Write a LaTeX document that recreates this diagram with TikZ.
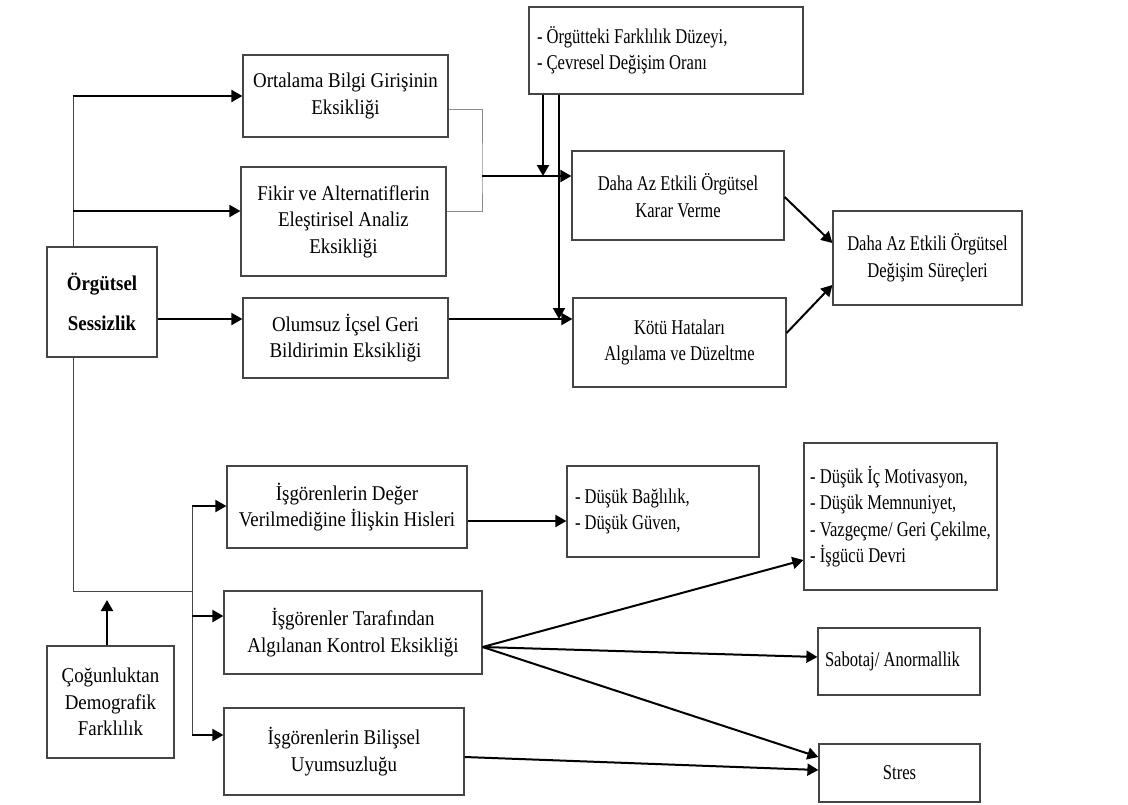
\documentclass[tikz,border=0pt]{standalone}
\usepackage{fontspec}
\setmainfont{Liberation Serif}
\newfontfamily\genisyazi[FakeStretch=0.9]{Liberation Serif}
\newfontfamily\darayazi[FakeStretch=0.79]{Liberation Serif}
\usetikzlibrary{arrows.meta}
\definecolor{cerceve}{HTML}{454545}
\definecolor{gricizgi}{HTML}{8A8A8A}

\begin{document}
\begin{tikzpicture}[x=1pt, y=-1pt,
    kutu/.style={draw=cerceve, line width=1.2pt, inner sep=0pt, align=center},
    buyuk/.style={font=\genisyazi\fontsize{21}{26.5}\selectfont},
    kucuk/.style={font=\darayazi\fontsize{21}{26.5}\selectfont},
    okcizgi/.style={-{Triangle[length=11pt,width=12pt]}, line width=2pt},
    ince/.style={draw=cerceve, line width=1pt}]
    \useasboundingbox (0,0) rectangle (1128,804);
    % sol sutun
    \node[kutu, buyuk, minimum width=110pt, minimum height=110pt] (sessizlik) at (102,302)
      {\bfseries Örgütsel\\[13.5pt]\bfseries Sessizlik};
    \node[kutu, buyuk, minimum width=205pt, minimum height=82pt] (ortalama) at (345.5,96)
      {Ortalama Bilgi Girişinin\\Eksikliği};
    \node[kutu, buyuk, minimum width=205pt, minimum height=109pt] (fikir) at (343.5,221.5)
      {Fikir ve Alternatiflerin\\Eleştirisel Analiz\\Eksikliği};
    \node[kutu, buyuk, minimum width=205pt, minimum height=80pt] (olumsuz) at (345.5,338)
      {Olumsuz İçsel Geri\\Bildirimin Eksikliği};
    % ust sag
    \node[kutu, kucuk, align=flush left, text width=258pt, inner xsep=8pt, minimum height=87pt] (etkenler) at (666,50.5)
      {- Örgütteki Farklılık Düzeyi,\\- Çevresel Değişim Oranı};
    \node[kutu, kucuk, minimum width=212pt, minimum height=89pt] (karar) at (678,195.5)
      {Daha Az Etkili Örgütsel\\Karar Verme};
    \node[kutu, kucuk, minimum width=213pt, minimum height=89pt] (hatalar) at (679.5,342.5)
      {Kötü Hataları\\Algılama ve Düzeltme};
    \node[kutu, kucuk, minimum width=189pt, minimum height=94pt] (degisim) at (927.5,258)
      {Daha Az Etkili Örgütsel\\Değişim Süreçleri};
    % alt kisim
    \node[kutu, buyuk, minimum width=240pt, minimum height=82pt] (deger) at (347,507)
      {İşgörenlerin Değer\\Verilmediğine İlişkin Hisleri};
    \node[kutu, buyuk, minimum width=258pt, minimum height=83pt] (kontrol) at (353,632.5)
      {İşgörenler Tarafından\\Algılanan Kontrol Eksikliği};
    \node[kutu, buyuk, minimum width=240pt, minimum height=87pt] (bilissel) at (344,751.5)
      {İşgörenlerin Bilişsel\\Uyumsuzluğu};
    \node[kutu, buyuk, minimum width=127pt, minimum height=112pt] (demografik) at (110.5,702)
      {Çoğunluktan\\Demografik\\Farklılık};
    \node[kutu, kucuk, align=flush left, text width=176pt, inner xsep=8pt, minimum height=91pt] (baglilik) at (663,511.5)
      {- Düşük Bağlılık,\\- Düşük Güven,};
    \node[kutu, kucuk, align=left, minimum width=193pt, minimum height=147pt] (motivasyon) at (900.5,516.5)
      {- Düşük İç Motivasyon,\\- Düşük Memnuniyet,\\- Vazgeçme/ Geri Çekilme,\\- İşgücü Devri};
    \node[kutu, kucuk, align=flush left, text width=148pt, inner xsep=7pt, minimum height=67pt] (sabotaj) at (899,661.5)
      {Sabotaj/ Anormallik};
    \node[kutu, kucuk, minimum width=161pt, minimum height=58pt] (stres) at (899.5,773) {Stres};
    % ust govde
    \coordinate (govde) at (73,96);
    \coordinate (fikirok) at (73,211);
    \coordinate (olumsuzok) at (0,319);
    \draw[ince] (sessizlik.north -| govde) -- (govde);
    \draw[okcizgi] (govde) -- (ortalama.west);
    \draw[okcizgi] (fikirok) -- (fikir.west |- fikirok);
    \draw[okcizgi] (sessizlik.east |- olumsuzok) -- (olumsuz.west |- olumsuzok);
    \draw[okcizgi] (olumsuz.east |- olumsuzok) -- (hatalar.west |- olumsuzok);
    % gri birlesme
    \coordinate (birlesme) at (482,176);
    \draw[gricizgi, line width=1pt] (ortalama.east |- 0,109) -| (birlesme) |- (fikir.east |- fikirok);
    \draw[okcizgi] (birlesme) -- (karar.west |- birlesme);
    % etkenlerden inen oklar
    \coordinate (etken1) at (543,0);
    \coordinate (etken2) at (559,0);
    \draw[okcizgi] (etkenler.south -| etken1) -- (birlesme -| etken1);
    \draw[okcizgi] (etkenler.south -| etken2) -- (olumsuzok -| etken2);
    % degisim surecleri
    \draw[okcizgi] (karar.east |- 0,197) -- (degisim.west |- 0,243);
    \draw[okcizgi] (hatalar.east |- 0,333) -- (degisim.west |- 0,285);
    % alt govde
    \coordinate (alt) at (73,591);
    \coordinate (dal) at (192,591);
    \coordinate (dalust) at (192,506);
    \coordinate (dalorta) at (192,616);
    \coordinate (dalalt) at (192,735);
    \draw[ince] (sessizlik.south -| alt) -- (alt) -- (dal);
    \draw[ince] (dalust) -- (dalalt);
    \draw[okcizgi] (dalust) -- (deger.west |- dalust);
    \draw[okcizgi] (dalorta) -- (kontrol.west |- dalorta);
    \draw[okcizgi] (dalalt) -- (bilissel.west |- dalalt);
    % demografik farklilik
    \coordinate (demok) at (107,600);
    \draw[okcizgi] (demografik.north -| demok) -- (demok);
    % sonuclar
    \draw[okcizgi] (deger.east |- 0,521) -- (baglilik.west |- 0,521);
    \coordinate (kontrolcikis) at (kontrol.east |- 0,647);
    \draw[okcizgi] (kontrolcikis) -- (motivasyon.west |- 0,560);
    \draw[okcizgi] (kontrolcikis) -- (sabotaj.west |- 0,657);
    \draw[okcizgi] (kontrolcikis) -- (stres.west |- 0,757);
    \draw[okcizgi] (bilissel.east |- 0,757) -- (stres.west |- 0,770);
\end{tikzpicture}
\end{document}
